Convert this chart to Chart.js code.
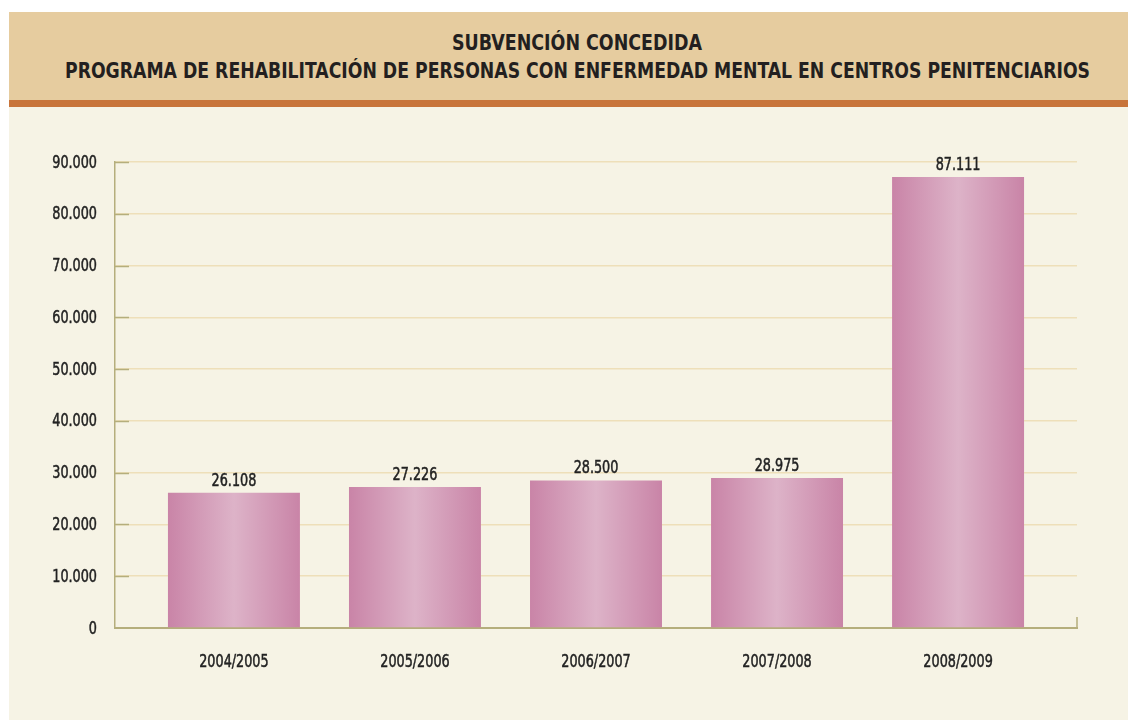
<!DOCTYPE html>
<html>
<head>
<meta charset="utf-8">
<script src="https://cdn.jsdelivr.net/npm/chart.js@4.4.1/dist/chart.umd.min.js"></script>
<style>
  body { margin: 0; background: #fff; }
  #panel { position: absolute; left: 9px; top: 12px; width: 1119px; height: 708px; background: #F6F3E5; }
  #header { position: relative; height: 88px; background: #E6CC9F; border-bottom: 7px solid #C8743A;
    font-family: "Liberation Sans Narrow", "DejaVu Sans Condensed", sans-serif; font-weight: bold; color: #231F20; }
  #header span { position: absolute; white-space: nowrap; font-size: 21px; line-height: 24px; transform-origin: 0 0; }
  #wrap { position: absolute; left: 0; top: 95px; width: 1119px; height: 613px; }
</style>
</head>
<body>
<div id="panel">
  <div id="header">
    <span id="t1">SUBVENCIÓN CONCEDIDA</span>
    <span id="t2">PROGRAMA DE REHABILITACIÓN DE PERSONAS CON ENFERMEDAD MENTAL EN CENTROS PENITENCIARIOS</span>
  </div>
  <div id="wrap"><canvas id="chart" width="1119" height="613"></canvas></div>
</div>
<script>
const categories = ['2004/2005', '2005/2006', '2006/2007', '2007/2008', '2008/2009'];
const amounts = [26108, 27226, 28500, 28975, 87111];
const yTicks = [0, 10000, 20000, 30000, 40000, 50000, 60000, 70000, 80000, 90000];

const FONT = '"Liberation Sans Narrow", "DejaVu Sans Condensed", sans-serif';
const BAR_HALF = 0.3645;
const SQUEEZE = 0.79;

// squeeze the title lines to the width of the condensed original
function fitTitle(id, left, width, top) {
  const el = document.getElementById(id);
  const w = el.getBoundingClientRect().width;
  el.style.left = left + 'px';
  el.style.top = top + 'px';
  el.style.transform = 'scaleX(' + (width / w) + ')';
}
fitTitle('t1', 443, 250, 19);
fitTitle('t2', 56, 1025, 47);

function fmt(v) {
  return String(v).replace(/\B(?=(\d{3})+(?!\d))/g, '.');
}

// narrow text, like the condensed face of the original
function narrowText(ctx, text, x, y, align) {
  ctx.save();
  ctx.translate(x, y);
  ctx.scale(SQUEEZE, 1);
  ctx.textAlign = align;
  ctx.fillText(text, 0, 0);
  ctx.strokeText(text, 0, 0);
  ctx.restore();
}

function barGradient(ctx) {
  const chart = ctx.chart;
  const x = chart.scales.x;
  if (!x || ctx.dataIndex == null) return '#D39BB8';
  const x0 = x.getPixelForValue(ctx.dataIndex - BAR_HALF);
  const x1 = x.getPixelForValue(ctx.dataIndex + BAR_HALF);
  if (!isFinite(x0) || !isFinite(x1)) return '#D39BB8';
  const g = chart.ctx.createLinearGradient(x0, 0, x1, 0);
  g.addColorStop(0, '#C984A7');
  g.addColorStop(0.5, '#DDB3C8');
  g.addColorStop(1, '#C984A7');
  return g;
}

const labelsPlugin = {
  id: 'labelsPlugin',
  afterDatasetsDraw(chart) {
    const ctx = chart.ctx;
    const meta = chart.getDatasetMeta(0);
    const xs = chart.scales.x;
    const ys = chart.scales.y;
    const area = chart.chartArea;
    ctx.save();
    ctx.font = '18px ' + FONT;
    ctx.fillStyle = '#222';
    ctx.strokeStyle = '#222';
    ctx.lineWidth = 0.5;
    ctx.textBaseline = 'alphabetic';
    meta.data.forEach((bar, i) => {
      narrowText(ctx, fmt(amounts[i]), bar.x, bar.y - 7, 'center');
    });
    yTicks.forEach(v => {
      narrowText(ctx, fmt(v), area.left - 18, ys.getPixelForValue(v) + 5.5, 'right');
    });
    categories.forEach((c, i) => {
      narrowText(ctx, c, xs.getPixelForValue(i), area.bottom + 39, 'center');
    });
    ctx.restore();
  }
};

// small inner ticks on the y axis and the closing tick at the right end
const axisMarks = {
  id: 'axisMarks',
  afterDraw(chart) {
    const ctx = chart.ctx;
    const area = chart.chartArea;
    const y = chart.scales.y;
    ctx.save();
    ctx.strokeStyle = '#B5AE7C';
    ctx.lineWidth = 1.5;
    ctx.beginPath();
    yTicks.forEach(v => {
      if (v === 0) return;
      const py = Math.round(y.getPixelForValue(v)) + 0.5;
      ctx.moveTo(area.left, py);
      ctx.lineTo(area.left + 14, py);
    });
    ctx.moveTo(area.right, area.bottom);
    ctx.lineTo(area.right, area.bottom - 11);
    ctx.stroke();
    ctx.restore();
  }
};

new Chart(document.getElementById('chart'), {
  type: 'bar',
  data: {
    datasets: [{
      data: amounts.map((v, i) => ({ x: i, y: v })),
      backgroundColor: barGradient,
      borderWidth: 0,
      barPercentage: 1,
      categoryPercentage: BAR_HALF * 2
    }]
  },
  plugins: [labelsPlugin, axisMarks],
  options: {
    responsive: false,
    animation: false,
    layout: { padding: { left: 0, right: 51, top: 55, bottom: 0 } },
    plugins: { legend: { display: false }, tooltip: { enabled: false } },
    scales: {
      x: {
        type: 'linear',
        offset: false,
        min: -0.657,
        max: 4.657,
        afterFit(scale) { scale.height = 92; },
        afterBuildTicks(scale) { scale.ticks = categories.map((c, i) => ({ value: i })); },
        grid: { display: false, drawTicks: false },
        border: { color: '#B5AE7C', width: 2 },
        ticks: { display: false }
      },
      y: {
        min: 0,
        max: 90000,
        afterFit(scale) { scale.width = 106; },
        afterBuildTicks(scale) { scale.ticks = yTicks.map(v => ({ value: v })); },
        grid: { color: '#EEDFB9', lineWidth: 1.5, drawTicks: false },
        border: { color: '#B5AE7C', width: 1.5 },
        ticks: { display: false }
      }
    }
  }
});
</script>
</body>
</html>
